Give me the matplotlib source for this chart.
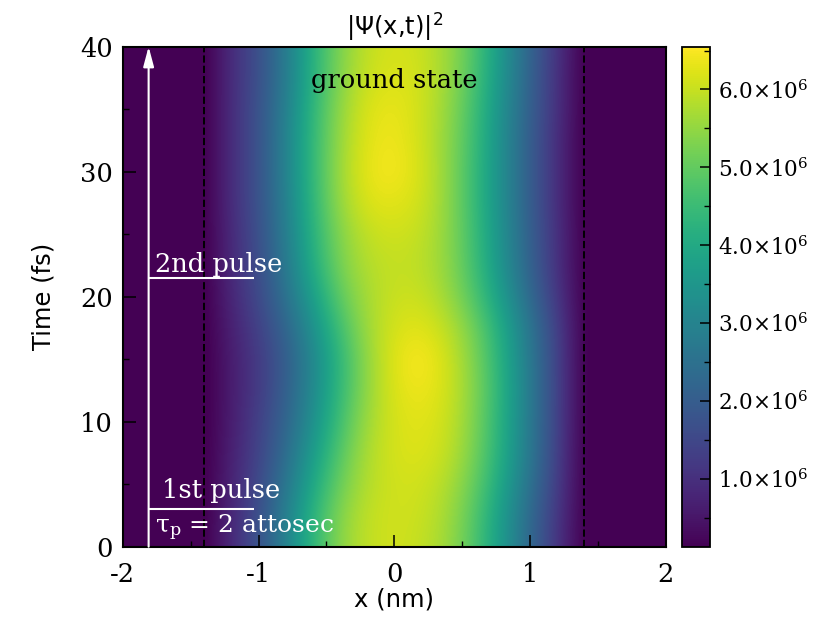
import numpy as np
import matplotlib
matplotlib.use("Agg")
import matplotlib.pyplot as plt
from matplotlib.ticker import MultipleLocator, FuncFormatter

plt.rcParams['font.family'] = ['DejaVu Serif']
plt.rcParams['mathtext.fontset'] = 'dejavuserif'

# ---------------- data ----------------
# positions inside the well (nm) and sampled times (fs)
x_inside = [-1.2, -1.0, -0.8, -0.6, -0.4, -0.2, 0.0, 0.2, 0.4, 0.6, 0.8, 1.0, 1.2]
t_fs = [0, 2.5, 5, 7.5, 10, 12.5, 15, 17.5, 20, 22.5, 25, 27.5, 30, 32.5, 35, 37.5, 40]
# |psi|^2 in units of 1e6, one row per time
density_1e6 = [
    [0.90, 1.74, 2.96, 4.37, 5.46, 5.97, 6.10, 5.97, 5.59, 4.75, 3.53, 2.25, 1.09],
    [0.84, 1.67, 2.89, 4.30, 5.39, 5.97, 6.10, 6.04, 5.65, 4.82, 3.60, 2.31, 1.16],
    [0.77, 1.54, 2.63, 3.98, 5.14, 5.84, 6.10, 6.10, 5.78, 5.01, 3.85, 2.51, 1.29],
    [0.71, 1.41, 2.38, 3.66, 4.88, 5.78, 6.16, 6.23, 5.97, 5.20, 4.05, 2.70, 1.35],
    [0.64, 1.35, 2.18, 3.34, 4.62, 5.65, 6.16, 6.29, 6.04, 5.27, 4.11, 2.70, 1.41],
    [0.64, 1.22, 2.06, 3.15, 4.43, 5.52, 6.23, 6.42, 6.10, 5.33, 4.17, 2.76, 1.41],
    [0.64, 1.22, 1.99, 3.08, 4.37, 5.52, 6.29, 6.55, 6.10, 5.27, 4.11, 2.70, 1.41],
    [0.71, 1.35, 2.18, 3.34, 4.62, 5.65, 6.16, 6.29, 5.91, 5.14, 3.98, 2.63, 1.35],
    [0.84, 1.54, 2.51, 3.73, 5.01, 5.72, 6.04, 6.04, 5.59, 4.75, 3.60, 2.31, 1.16],
    [0.90, 1.61, 2.70, 4.11, 5.27, 5.84, 5.97, 5.91, 5.46, 4.56, 3.34, 2.12, 1.03],
    [0.90, 1.67, 2.83, 4.24, 5.39, 5.97, 6.10, 5.97, 5.46, 4.50, 3.28, 2.06, 1.03],
    [0.96, 1.74, 2.89, 4.37, 5.59, 6.23, 6.29, 6.10, 5.46, 4.43, 3.21, 1.99, 0.96],
    [0.96, 1.74, 2.96, 4.43, 5.65, 6.36, 6.49, 6.16, 5.46, 4.43, 3.21, 1.99, 0.96],
    [0.96, 1.74, 2.96, 4.43, 5.59, 6.29, 6.42, 6.10, 5.46, 4.50, 3.21, 1.99, 0.96],
    [0.96, 1.74, 2.89, 4.37, 5.52, 6.23, 6.36, 6.10, 5.52, 4.56, 3.28, 2.06, 1.03],
    [0.96, 1.67, 2.76, 4.24, 5.39, 6.04, 6.23, 6.10, 5.59, 4.69, 3.40, 2.12, 1.03],
    [0.96, 1.67, 2.76, 4.24, 5.33, 5.97, 6.16, 6.04, 5.59, 4.75, 3.47, 2.18, 1.09],
]
well_edges = [-1.4, 1.4]          # dashed lines (nm)
pulse_times = [3.0, 21.5]         # fs
cbar_ticks_1e6 = [1.0, 2.0, 3.0, 4.0, 5.0, 6.0]
vmin, vmax = 0.13e6, 6.55e6

# ---------------- build full grid (zero outside the well) ----------------
dx = 0.2
n_pad = 4   # grid columns -2.0 .. -1.4 and 1.4 .. 2.0 (zero density)
dens = np.array(density_1e6) * 1e6
grid = np.pad(dens, ((0, 0), (n_pad, n_pad)), constant_values=0.0)
x_full = np.concatenate([x_inside[0] - dx * np.arange(n_pad, 0, -1),
                         x_inside,
                         x_inside[-1] + dx * np.arange(1, n_pad + 1)])
dt = t_fs[1] - t_fs[0]

fig = plt.figure(figsize=(8.3, 6.22), dpi=100)
ax = fig.add_axes([0.148, 0.121, 0.654, 0.804])
cax = fig.add_axes([0.822, 0.121, 0.0334, 0.804])

im = ax.imshow(grid, origin='lower', aspect='auto', cmap='viridis',
               interpolation='bicubic', interpolation_stage='data',
               vmin=vmin, vmax=vmax,
               extent=[x_full[0] - dx / 2, x_full[-1] + dx / 2,
                       t_fs[0] - dt / 2, t_fs[-1] + dt / 2])
ax.set_xlim(-2, 2)
ax.set_ylim(0, 40)

for xe in well_edges:
    ax.axvline(xe, color='black', ls='--', lw=1.4)

arrow_x = -1.81
ax.annotate('', xy=(arrow_x, 40), xytext=(arrow_x, 0),
            arrowprops=dict(arrowstyle='-|>,head_length=1.2,head_width=0.32',
                            color='white', lw=1.5, shrinkA=0, shrinkB=0))
ax.hlines(pulse_times, arrow_x, -1.03, color='white', lw=1.5)

fs_txt = 18.5
ax.text(-1.76, 22.0, '2nd pulse', color='white', fontsize=fs_txt, va='baseline')
ax.text(-1.71, 3.9, '1st pulse', color='white', fontsize=fs_txt, va='baseline')
ax.text(-1.76, 1.1, r'τ$_\mathrm{p}$ = 2 attosec', color='white', fontsize=18, va='baseline')
ax.text(0.0, 36.7, 'ground state', color='black', fontsize=fs_txt, ha='center', va='baseline')

ax.xaxis.set_major_locator(MultipleLocator(1))
ax.xaxis.set_minor_locator(MultipleLocator(0.5))
ax.yaxis.set_major_locator(MultipleLocator(10))
ax.yaxis.set_minor_locator(MultipleLocator(5))
ax.xaxis.set_major_formatter(FuncFormatter(lambda v, p: f'{v:.0f}'))
ax.tick_params(which='both', direction='in', top=False, right=False, labelsize=18.5)
ax.tick_params(axis='x', which='major', pad=11)
ax.tick_params(axis='y', which='major', pad=7)
ax.tick_params(which='major', length=9, width=1.1)
ax.tick_params(which='minor', length=4.5, width=1.0)
for s in ax.spines.values():
    s.set_linewidth(1.5)

ax.set_xlabel('x (nm)', family='DejaVu Sans', fontsize=17.5, labelpad=0)
ax.set_ylabel('Time (fs)', family='DejaVu Sans', fontsize=17.5, labelpad=18)
ax.set_title(r'|Ψ(x,t)|$^{\mathsf{2}}$', family='DejaVu Sans', fontsize=17.5, pad=9)

cb = fig.colorbar(im, cax=cax)
cb.set_ticks([v * 1e6 for v in cbar_ticks_1e6])
cb.ax.yaxis.set_minor_locator(MultipleLocator(0.5e6))
cb.ax.yaxis.set_major_formatter(FuncFormatter(lambda v, p: f'{v/1e6:.1f}×10$^6$'))
cb.ax.tick_params(which='both', direction='in', labelsize=15.5, pad=6)
cb.ax.tick_params(which='major', length=7, width=1.1)
cb.ax.tick_params(which='minor', length=4.5, width=1.0)
cb.outline.set_linewidth(1.3)

fig.savefig('out.png', dpi=100)
